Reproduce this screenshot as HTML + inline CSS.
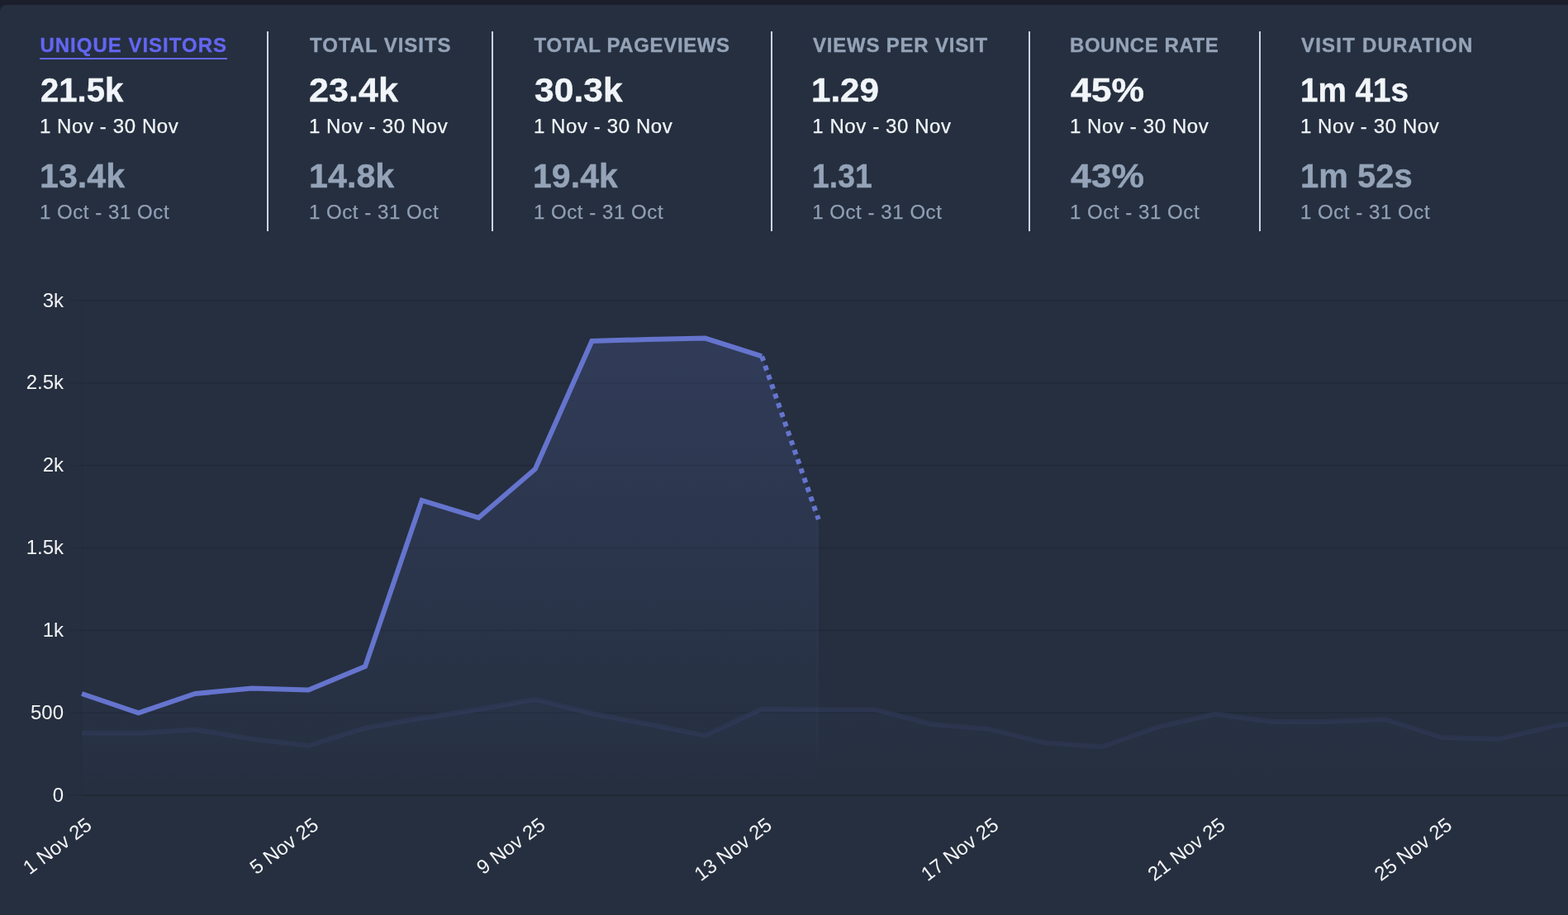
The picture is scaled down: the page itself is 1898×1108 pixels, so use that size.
<!DOCTYPE html>
<html lang="en">
<head>
<meta charset="utf-8">
<title>Plausible Analytics</title>
<style>
*{box-sizing:border-box;margin:0;padding:0}
html,body{width:1898px;height:1108px;overflow:hidden;background:#1c1f2b}
body{font-family:"Liberation Sans",Arial,Helvetica,sans-serif;position:relative;-webkit-font-smoothing:antialiased}
.card{position:absolute;left:0;top:6px;width:1930px;height:1130px;background:#252f3f;border-radius:8px 0 0 0;overflow:hidden}
.stats{position:absolute;left:0;top:0;height:300px;width:1930px}
.stat{position:absolute;left:0;top:32px;height:242px;width:0}
.vr{position:absolute;top:32px;height:242px;width:2px;background:#cbd5e1}
.stat div{position:absolute;white-space:nowrap;transform-origin:0 50%}
.lbl{top:1.9px;-webkit-text-stroke:0.35px currentColor;font-weight:700;font-size:24px;line-height:30px;color:#94a3b8}
.lbl.sel{color:#6366f1}
.lbl.sel:after{content:"";position:absolute;left:-0.5px;right:-0.5px;top:30.5px;height:2px;background:#6366f1}
.val{top:42.5px;-webkit-text-stroke:0.4px #f1f5f9;font-weight:700;font-size:40px;line-height:56px;color:#f1f5f9}
.dt{top:98.7px;-webkit-text-stroke:0.25px currentColor;font-size:24px;line-height:32px;color:#f1f5f9}
.cval{top:146.9px;-webkit-text-stroke:0.4px #94a3b8;font-weight:700;font-size:40px;line-height:56px;color:#94a3b8}
.cdt{top:202.7px;-webkit-text-stroke:0.25px currentColor;font-size:24px;line-height:32px;color:#919fb5}
svg{position:absolute;left:0;top:0}
svg text{font-family:"Liberation Sans",Arial,Helvetica,sans-serif;font-size:24px;fill:#f3f4f6}
</style>
</head>
<body>
<div class="card">
<div class="stats">
<div class="stat"><div class="lbl sel" style="left:48.4px;letter-spacing:1.00px">UNIQUE VISITORS</div><div class="val" style="left:48.9px;transform:scaleX(1.0025)">21.5k</div><div class="dt" style="left:47.9px;letter-spacing:0.60px">1 Nov - 30 Nov</div><div class="cval" style="left:47.8px;transform:scaleX(1.0298)">13.4k</div><div class="cdt" style="left:47.9px;letter-spacing:0.56px">1 Oct - 31 Oct</div></div>
<div class="vr" style="left:323px"></div>
<div class="stat"><div class="lbl" style="left:375.0px;letter-spacing:0.96px">TOTAL VISITS</div><div class="val" style="left:374.2px;transform:scaleX(1.0776)">23.4k</div><div class="dt" style="left:373.9px;letter-spacing:0.60px">1 Nov - 30 Nov</div><div class="cval" style="left:373.9px;transform:scaleX(1.0319)">14.8k</div><div class="cdt" style="left:373.9px;letter-spacing:0.56px">1 Oct - 31 Oct</div></div>
<div class="vr" style="left:595px"></div>
<div class="stat"><div class="lbl" style="left:646.6px;letter-spacing:0.64px">TOTAL PAGEVIEWS</div><div class="val" style="left:646.6px;transform:scaleX(1.0649)">30.3k</div><div class="dt" style="left:645.9px;letter-spacing:0.60px">1 Nov - 30 Nov</div><div class="cval" style="left:645.4px;transform:scaleX(1.0278)">19.4k</div><div class="cdt" style="left:645.9px;letter-spacing:0.56px">1 Oct - 31 Oct</div></div>
<div class="vr" style="left:933px"></div>
<div class="stat"><div class="lbl" style="left:984.0px;letter-spacing:0.79px">VIEWS PER VISIT</div><div class="val" style="left:982.4px;transform:scaleX(1.0522)">1.29</div><div class="dt" style="left:983.2px;letter-spacing:0.60px">1 Nov - 30 Nov</div><div class="cval" style="left:982.6px;transform:scaleX(0.9338)">1.31</div><div class="cdt" style="left:983.2px;letter-spacing:0.56px">1 Oct - 31 Oct</div></div>
<div class="vr" style="left:1245px"></div>
<div class="stat"><div class="lbl" style="left:1295.0px;letter-spacing:0.55px">BOUNCE RATE</div><div class="val" style="left:1296.0px;transform:scaleX(1.1121)">45%</div><div class="dt" style="left:1294.9px;letter-spacing:0.60px">1 Nov - 30 Nov</div><div class="cval" style="left:1296.0px;transform:scaleX(1.1121)">43%</div><div class="cdt" style="left:1294.9px;letter-spacing:0.56px">1 Oct - 31 Oct</div></div>
<div class="vr" style="left:1524px"></div>
<div class="stat"><div class="lbl" style="left:1575.0px;letter-spacing:1.21px">VISIT DURATION</div><div class="val" style="left:1573.8px;transform:scaleX(0.9659)">1m 41s</div><div class="dt" style="left:1573.9px;letter-spacing:0.60px">1 Nov - 30 Nov</div><div class="cval" style="left:1573.7px;transform:scaleX(0.9999)">1m 52s</div><div class="cdt" style="left:1573.9px;letter-spacing:0.56px">1 Oct - 31 Oct</div></div>
</div>
</div>
<svg width="1898" height="1108" viewBox="0 0 1898 1108">
<defs>
<linearGradient id="g1" gradientUnits="userSpaceOnUse" x1="0" y1="348" x2="0" y2="952">
<stop offset="0" stop-color="rgb(101,116,205)" stop-opacity="0.2"/>
<stop offset="1" stop-color="rgb(101,116,205)" stop-opacity="0"/>
</linearGradient>
</defs>
<rect x="83" y="363.0" width="16" height="2" fill="#000" fill-opacity="0.045"/>
<rect x="99" y="363.0" width="1799" height="2" fill="#000" fill-opacity="0.09"/>
<rect x="83" y="462.8" width="16" height="2" fill="#000" fill-opacity="0.045"/>
<rect x="99" y="462.8" width="1799" height="2" fill="#000" fill-opacity="0.09"/>
<rect x="83" y="562.7" width="16" height="2" fill="#000" fill-opacity="0.045"/>
<rect x="99" y="562.7" width="1799" height="2" fill="#000" fill-opacity="0.09"/>
<rect x="83" y="662.5" width="16" height="2" fill="#000" fill-opacity="0.045"/>
<rect x="99" y="662.5" width="1799" height="2" fill="#000" fill-opacity="0.09"/>
<rect x="83" y="762.3" width="16" height="2" fill="#000" fill-opacity="0.045"/>
<rect x="99" y="762.3" width="1799" height="2" fill="#000" fill-opacity="0.09"/>
<rect x="83" y="862.2" width="16" height="2" fill="#000" fill-opacity="0.045"/>
<rect x="99" y="862.2" width="1799" height="2" fill="#000" fill-opacity="0.09"/>
<rect x="83" y="962.0" width="16" height="2" fill="#000" fill-opacity="0.075"/>
<rect x="99" y="962.0" width="1799" height="2" fill="#000" fill-opacity="0.15"/>
<rect x="98" y="364.0" width="2" height="599.0" fill="#000" fill-opacity="0.03"/>
<polyline points="99.0,887.4 167.6,888.0 236.2,883.3 304.8,894.8 373.4,902.9 442.0,881.5 510.6,869.7 579.2,859.0 647.8,846.8 716.4,864.0 785.0,877.0 853.6,890.7 922.2,858.6 990.8,859.3 1059.4,859.3 1128.0,877.0 1196.6,882.6 1265.2,899.3 1333.8,904.3 1402.4,880.0 1471.0,864.6 1539.6,874.0 1608.2,873.8 1676.8,871.0 1745.4,893.0 1814.0,895.0 1882.6,878.6 1951.2,870.0" fill="none" stroke="#2b344c" stroke-width="6" stroke-linejoin="miter"/>
<polygon points="99.0,887.4 167.6,888.0 236.2,883.3 304.8,894.8 373.4,902.9 442.0,881.5 510.6,869.7 579.2,859.0 647.8,846.8 716.4,864.0 785.0,877.0 853.6,890.7 922.2,858.6 990.8,859.3 1059.4,859.3 1128.0,877.0 1196.6,882.6 1265.2,899.3 1333.8,904.3 1402.4,880.0 1471.0,864.6 1539.6,874.0 1608.2,873.8 1676.8,871.0 1745.4,893.0 1814.0,895.0 1882.6,878.6 1951.2,870.0 1951.2,963.0 99.0,963.0" fill="url(#g1)"/>
<polygon points="99.0,840.0 167.6,863.4 236.2,840.0 304.8,833.5 373.4,835.4 442.0,807.0 510.6,605.9 579.2,626.9 647.8,567.9 716.4,413.0 785.0,411.0 853.6,409.6 922.2,431.4 990.8,629 990.8,963.0 99.0,963.0" fill="url(#g1)"/>
<polyline points="99.0,840.0 167.6,863.4 236.2,840.0 304.8,833.5 373.4,835.4 442.0,807.0 510.6,605.9 579.2,626.9 647.8,567.9 716.4,413.0 785.0,411.0 853.6,409.6 922.2,431.4" fill="none" stroke="rgb(101,116,205)" stroke-width="6" stroke-linejoin="miter" stroke-linecap="butt"/>
<line x1="922.2" y1="431.4" x2="990.8" y2="629" stroke="rgb(101,116,205)" stroke-width="6" stroke-dasharray="6 6"/>
<rect x="988" y="632" width="3" height="280" fill="rgb(101,116,205)" fill-opacity="0.03"/>
<text x="77" y="371.6" text-anchor="end">3k</text>
<text x="77" y="471.4" text-anchor="end">2.5k</text>
<text x="77" y="571.3" text-anchor="end">2k</text>
<text x="77" y="671.1" text-anchor="end">1.5k</text>
<text x="77" y="770.9" text-anchor="end">1k</text>
<text x="77" y="870.8" text-anchor="end">500</text>
<text x="77" y="970.6" text-anchor="end">0</text>
<text text-anchor="end" transform="translate(99.0,983.8) rotate(-36.8)" x="0" y="23">1 Nov 25</text>
<text text-anchor="end" transform="translate(373.4,983.8) rotate(-36.8)" x="0" y="23">5 Nov 25</text>
<text text-anchor="end" transform="translate(647.8,983.8) rotate(-36.8)" x="0" y="23">9 Nov 25</text>
<text text-anchor="end" transform="translate(922.2,983.8) rotate(-36.8)" x="0" y="23">13 Nov 25</text>
<text text-anchor="end" transform="translate(1196.6,983.8) rotate(-36.8)" x="0" y="23">17 Nov 25</text>
<text text-anchor="end" transform="translate(1471.0,983.8) rotate(-36.8)" x="0" y="23">21 Nov 25</text>
<text text-anchor="end" transform="translate(1745.4,983.8) rotate(-36.8)" x="0" y="23">25 Nov 25</text>
</svg>
</body>
</html>
